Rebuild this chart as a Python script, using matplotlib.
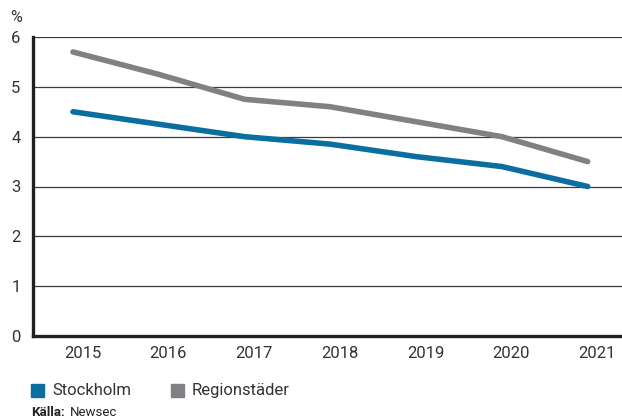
import matplotlib
matplotlib.use("Agg")
import matplotlib.pyplot as plt
from matplotlib.patches import Rectangle

years = ["2015", "2016", "2017", "2018", "2019", "2020", "2021"]
stockholm = [4.5, 4.25, 4.0, 3.85, 3.6, 3.4, 3.0]
regionstader = [5.7, 5.25, 4.75, 4.6, 4.3, 4.0, 3.5]
series_names = ["Stockholm", "Regionstäder"]
yticks = [0, 1, 2, 3, 4, 5, 6]

BLUE = "#0a6fa0"
GREY = "#808184"
DARK = "#231f20"

plt.rcParams["font.family"] = ["Roboto", "DejaVu Sans"]

W, H = 622, 418
fig = plt.figure(figsize=(W / 100, H / 100), dpi=100)
ax = fig.add_axes([33 / W, (H - 336) / H, 1 - 33 / W, (336 - 37) / H])

x = list(range(len(years)))
ax.plot(x, regionstader, color=GREY, lw=4.0, solid_capstyle="round", solid_joinstyle="round", zorder=3)
ax.plot(x, stockholm, color=BLUE, lw=4.0, solid_capstyle="round", solid_joinstyle="round", zorder=4)

ax.set_xlim(-0.466, 6.4)
ax.set_ylim(0, 6)
ax.set_yticks(yticks)
ax.set_yticklabels([str(v) for v in yticks])
for v in yticks[1:]:
    ax.axhline(v, color="#3a3a3a", lw=0.9, zorder=1)

# labels sit slightly right of the data points in the reference
label_shift = 0.11
ax.set_xticks([i + label_shift for i in x])
ax.set_xticklabels(years)

ax.tick_params(axis="both", length=0, labelsize=12, colors="#333333")
ax.tick_params(axis="x", pad=7)
ax.tick_params(axis="y", pad=9)

for s in ["top", "right"]:
    ax.spines[s].set_visible(False)
for s in ["left", "bottom"]:
    ax.spines[s].set_color(DARK)
    ax.spines[s].set_linewidth(2.4)
    ax.spines[s].set_zorder(5)

fig.text(16 / W, 1 - 18 / H, "%", fontsize=11.5, color="#333333", ha="center", va="center")

# legend
colors = [BLUE, GREY]
sq_x = [31, 171]
for name, c, sx in zip(series_names, colors, sq_x):
    fig.patches.append(Rectangle((sx / W, 1 - 397 / H), 13 / W, 13 / H,
                                 transform=fig.transFigure, color=c, figure=fig))
    fig.text((sx + 21) / W, 1 - 390.5 / H, name, fontsize=12, color="#333333",
             ha="left", va="center")

fig.text(31 / W, 1 - 412 / H, "Källa:", fontsize=9.5, fontweight="bold", color="#222222",
         ha="left", va="center")
fig.text(70 / W, 1 - 412 / H, "Newsec", fontsize=9.5, color="#222222", ha="left", va="center")

fig.savefig("out.png", dpi=100)
